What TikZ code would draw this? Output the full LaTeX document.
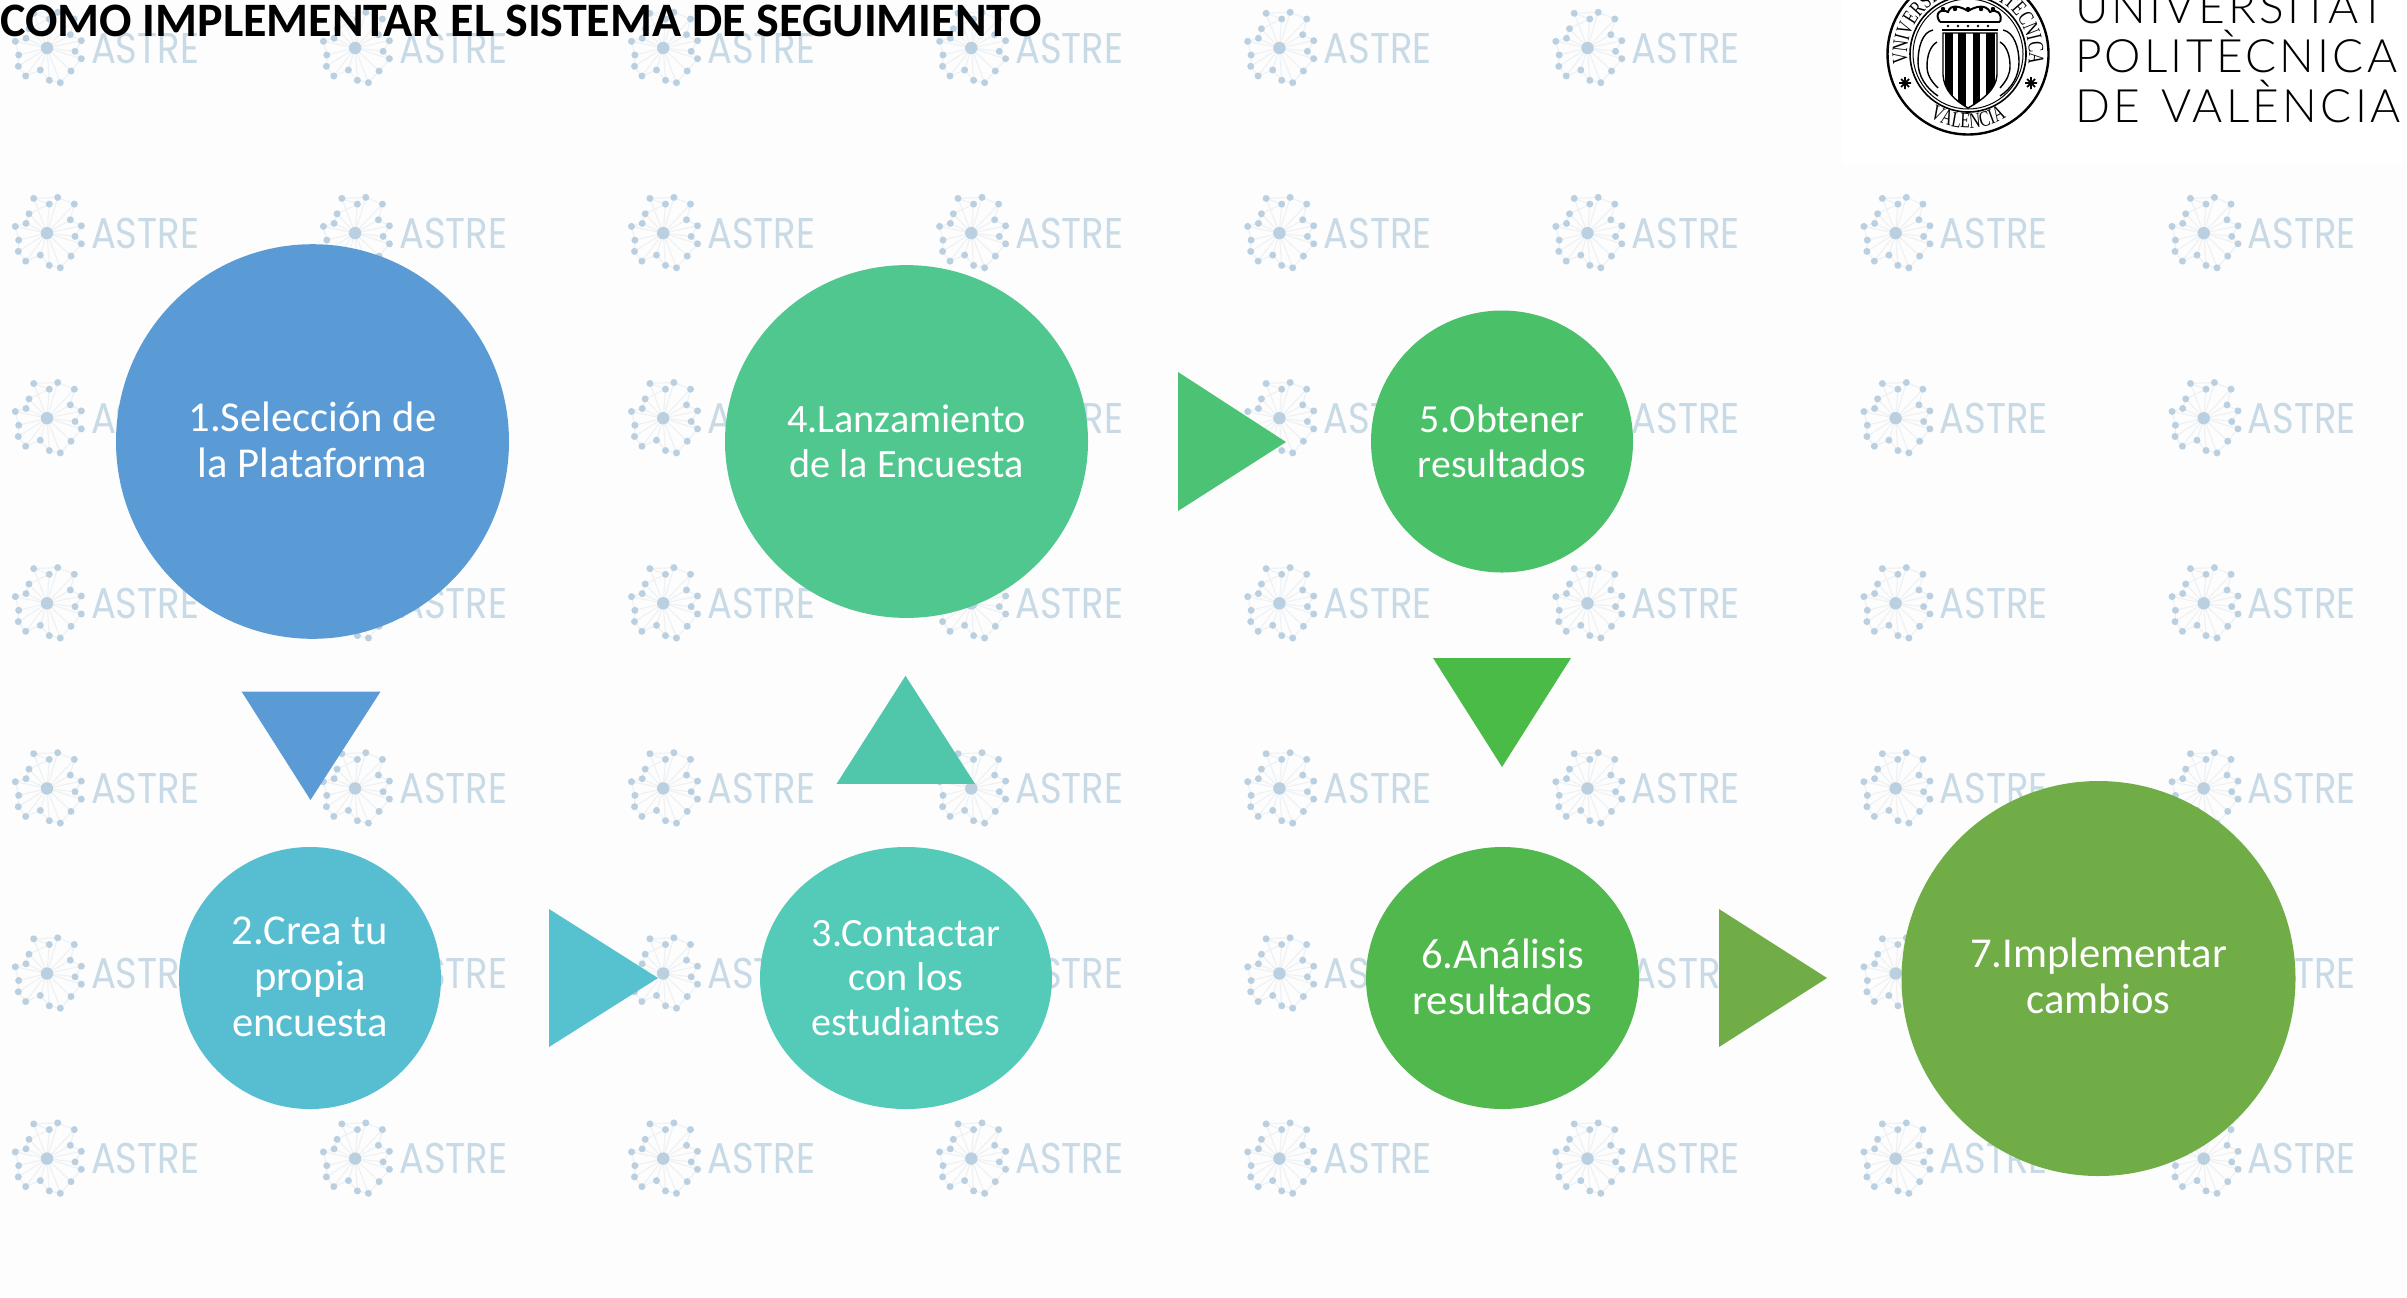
\documentclass[tikz,border=0pt]{standalone}
\usepackage{fontspec}
\usetikzlibrary{shapes.geometric,decorations.text}
\setmainfont{Carlito}
\newfontfamily\wmfont[FakeStretch=0.86]{Poppins}
\newfontfamily\uvfont[LetterSpace=7]{Lato Light}
\newfontfamily\sealfont[FakeStretch=0.72]{Liberation Serif}
\newcommand{\nudgeup}[1]{\rule[-#1]{0pt}{0pt}}
\definecolor{bgc}{HTML}{FDFDFD}
\definecolor{wmdot}{HTML}{BAD0E0}
\definecolor{wmline}{HTML}{EFF1F3}
\definecolor{wmtext}{HTML}{C8DAE6}
\definecolor{cA}{HTML}{5B9BD5}
\definecolor{cB}{HTML}{57BDD0}
\definecolor{cBt}{HTML}{56C2D0}
\definecolor{cC}{HTML}{53CBB8}
\definecolor{cCt}{HTML}{50C7AB}
\definecolor{cD}{HTML}{50C78F}
\definecolor{cDt}{HTML}{4CC274}
\definecolor{cE}{HTML}{4AC068}
\definecolor{cEt}{HTML}{4BBB47}
\definecolor{cF}{HTML}{50B84C}
\definecolor{cG}{HTML}{70AD47}
\tikzset{
  stepshape/.style={ellipse,inner sep=0pt,outer sep=0pt,text=white,align=center,font=\fontsize{21.3}{23}\selectfont},
  wmlabel/.style={inner sep=0pt,outer sep=0pt,anchor=base west,text=wmtext,font=\wmfont\fontsize{21.5}{22}\selectfont},
  uvlabel/.style={inner sep=0pt,outer sep=0pt,anchor=base west,text=black,font=\uvfont\fontsize{23}{23}\selectfont},
  seal/.style={draw=black,line width=0.8pt},
}
\newcommand{\wmark}[3]{%
  \begin{scope}[shift={(#1,#2)}]
    \draw[wmline,line width=0.6pt] (-13.3,-34.7)--(10.7,-35.7)--(27.3,-29)--(23.3,-13.3)--(34.3,-7.3)--(28,3.3)--(34.3,10.7)--(24,23)--(13.3,34.7)--(2.3,32.3)--(-6.7,22)--(-21.3,28)--(-28.7,18.3)--(-28.3,7)--(-31.7,-6.7)--(-21,-9.7)--(-18,-19.3)--(2.3,-29)--cycle;
    \foreach \p in {(-13.3,-34.7),(10.7,-35.7),(27.3,-29),(23.3,-13.3),(34.3,-7.3),(28,3.3),(34.3,10.7),(24,23),(13.3,34.7),(2.3,32.3),(-6.7,22),(-21.3,28),(-28.7,18.3),(-28.3,7),(-31.7,-6.7),(-21,-9.7),(-18,-19.3),(2.3,-29)}{
      \draw[wmline,line width=0.6pt] (0,0)--\p;
      \fill[wmdot] \p circle (3.5);
    }
    \fill[wmdot] (0,0) circle (6.2);
    \node[wmlabel] (#3) at (44,15) {ASTRE};
  \end{scope}}
\begin{document}
\begin{tikzpicture}[x=0.5pt,y=-0.5pt]
\clip (0,0) rectangle (2407,1297);
\fill[bgc] (0,0) rectangle (2407,1297);
% watermark
\foreach \i in {0,...,7}{
  \foreach \j in {0,...,6}{
    \pgfmathsetmacro{\wx}{47+308.1*\i}
    \pgfmathsetmacro{\wy}{48+185.1*\j}
    \wmark{\wx}{\wy}{wm\i\j}
  }
}
% logo panel
\fill[white] (1842,0) rectangle (2407,165);
\begin{scope}
  \draw[seal,line width=1.2pt] (1968,54) circle (80.5);
  \draw[seal,line width=0.8pt] (1968,54) circle (58);
  \draw[seal,line width=0.5pt] (1968,54) circle (55);
  \path[decorate,decoration={text along path,text align=center,text={|\sealfont\fontsize{11}{11}\selectfont|VNIVERSITAS POLITECNICA}}] (1968,54) ++(172:61) arc[start angle=172,end angle=368,radius=61];
  \path[decorate,decoration={text along path,text align=center,text={|\sealfont\fontsize{11}{11}\selectfont|VALENCIA}}] (1968,54) ++(135:74) arc[start angle=135,end angle=45,radius=74];
  % stars
  \foreach \sx in {1905,2031}{
    \draw[black,line width=0.9pt] (\sx-6,83)--(\sx+6,83) (\sx,77)--(\sx,89) (\sx-4,79)--(\sx+4,87) (\sx-4,87)--(\sx+4,79);
  }
  % shield
  \begin{scope}
    \clip (1943,33) -- (1997,33) -- (1997,75) .. controls (1996,90) and (1982,100) .. (1968,108) .. controls (1954,100) and (1944,90) .. (1943,75) -- cycle;
    \fill[black] (1945,33) rectangle (1953.3,110);
    \fill[black] (1958.3,33) rectangle (1966,110);
    \fill[black] (1972.7,33) rectangle (1979.5,110);
    \fill[black] (1986,33) rectangle (1995,110);
  \end{scope}
  \draw[seal,line width=0.7pt] (1943,33) -- (1997,33) -- (1997,75) .. controls (1996,90) and (1982,100) .. (1968,108) .. controls (1954,100) and (1944,90) .. (1943,75) -- cycle;
  % crown
  \draw[seal,line width=1pt] (1942,30)--(1998,30) (1940,22)--(2000,22);
  \draw[seal,line width=1pt] (1940,22) .. controls (1934,14) and (1940,8) .. (1948,12) .. controls (1950,4) and (1960,6) .. (1968,11) .. controls (1976,6) and (1986,4) .. (1990,12) .. controls (1996,8) and (2003,14) .. (2000,22);
  \foreach \cx in {1943,1955,1968,1981,1993}{\fill[black] (\cx,9) circle (2.2);}
  \foreach \cx in {1948,1958,1968,1978,1988}{\fill[black] (\cx,26) circle (1.4);}
  % scrolls
  \draw[seal,line width=0.7pt] (1933,30) .. controls (1922,32) and (1918,48) .. (1918,62) .. controls (1918,76) and (1926,88) .. (1938,96);
  \draw[seal,line width=0.7pt] (1937,42) .. controls (1930,46) and (1927,56) .. (1927,66) .. controls (1927,74) and (1930,80) .. (1938,88);
  \draw[seal,line width=0.7pt] (2003,30) .. controls (2014,32) and (2019,48) .. (2019,62) .. controls (2019,76) and (2012,88) .. (2000,96);
  \draw[seal,line width=0.7pt] (2000,42) .. controls (2007,46) and (2010,56) .. (2010,66) .. controls (2010,74) and (2007,80) .. (2000,88);
\end{scope}
\node[uvlabel] (uv1) at (2075,23) {UNIVERSITAT};
\node[uvlabel] (uv2) at (2075,72.5) {POLITÈCNICA};
\node[uvlabel] (uv3) at (2075,122) {DE\hspace{11pt}VALÈNCIA};
% title
\node[inner sep=0pt,outer sep=0pt,anchor=base west,text=black,font=\bfseries\fontsize{24}{24}\selectfont] (title) at (0,36) {COMO IMPLEMENTAR EL SISTEMA DE SEGUIMIENTO};
% triangles
\fill[cA] (241.6,691.5)--(380.6,691.5)--(310.5,800)--cycle;
\fill[cBt] (549,909)--(549,1047)--(658,978)--cycle;
\fill[cCt] (836.6,783.8)--(975,783.8)--(905.5,675.8)--cycle;
\fill[cDt] (1178,372)--(1178,511)--(1286,442)--cycle;
\fill[cEt] (1433,658)--(1571,658)--(1502,767)--cycle;
\fill[cG] (1719,909)--(1719,1047)--(1827,978)--cycle;
% steps
\node[stepshape,fill=cA,minimum width=196.5pt,minimum height=197.3pt] (s1) at (312.5,441.5) {1.Selección de\\la Plataforma\nudgeup{1.6pt}};
\node[stepshape,fill=cB,minimum width=131pt,minimum height=131pt] (s2) at (310,978) {2.Crea tu\\propia\\encuesta\nudgeup{1.6pt}};
\node[stepshape,fill=cC,minimum width=146pt,minimum height=131pt,font=\fontsize{20.1}{22.3}\selectfont] (s3) at (906,978) {3.Contactar\\con los\\estudiantes};
\node[stepshape,fill=cD,minimum width=181.5pt,minimum height=176.4pt,font=\fontsize{20.1}{22.5}\selectfont] (s4) at (906.5,441.5) {4.Lanzamiento\\de la Encuesta};
\node[stepshape,fill=cE,minimum width=131pt,minimum height=131pt,font=\fontsize{19.9}{22.5}\selectfont] (s5) at (1502,441.5) {5.Obtener\\resultados};
\node[stepshape,fill=cF,minimum width=136.5pt,minimum height=131pt] (s6) at (1502.5,978) {6.Análisis\\resultados\nudgeup{1.6pt}};
\node[stepshape,fill=cG,minimum width=197pt,minimum height=197.5pt] (s7) at (2098.5,978.5) {7.Implementar\\cambios\nudgeup{2.6pt}};
\end{tikzpicture}
\end{document}
